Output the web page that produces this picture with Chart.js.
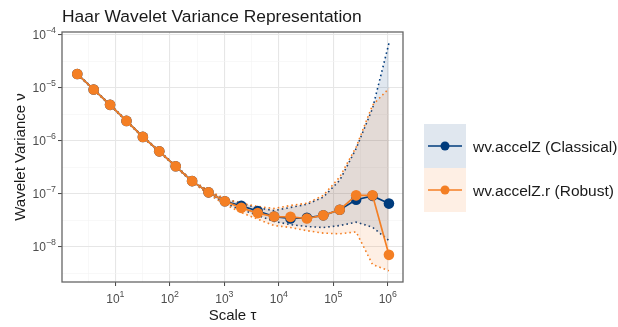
<!DOCTYPE html>
<html>
<head>
<meta charset="utf-8">
<script src="https://cdn.jsdelivr.net/npm/chart.js@4.4.0/dist/chart.umd.min.js"></script>
<style>
    html, body { margin: 0; padding: 0; background: #fff; }
    #wrap { width: 618px; height: 327px; }
</style>
</head>
<body>
<div id="wrap"><canvas id="wvChart" width="618" height="327"></canvas></div>
<script>
// scales tau = 2^1 .. 2^20
const scales = [2, 4, 8, 16, 32, 64, 128, 256, 512, 1024, 2048, 4096, 8192, 16384, 32768, 65536, 131072, 262144, 524288, 1048576]

// wavelet variance, classical estimator
const classical = [1.82e-5, 9.3e-6, 4.76e-6, 2.37e-6, 1.18e-6, 6.3e-7, 3.29e-7, 1.73e-7, 1.06e-7, 7.2e-8,
    5.9e-8, 4.7e-8, 3.7e-8, 3.4e-8, 3.5e-8, 3.9e-8, 4.98e-8, 7.7e-8, 9.1e-8, 6.5e-8]
const classicalUpper = [1.85e-5, 9.45e-6, 4.84e-6, 2.41e-6, 1.2e-6, 6.42e-7, 3.36e-7, 1.78e-7, 1.12e-7, 7.9e-8,
    6.6e-8, 5.4e-8, 4.8e-8, 5.5e-8, 6.3e-8, 8.6e-8, 1.79e-7, 7.1e-7, 4.07e-6, 6.93e-5]
const classicalLower = [1.79e-5, 9.15e-6, 4.68e-6, 2.33e-6, 1.16e-6, 6.18e-7, 3.22e-7, 1.68e-7, 1.0e-7, 6.5e-8,
    5.0e-8, 3.9e-8, 3.0e-8, 2.6e-8, 2.4e-8, 2.3e-8, 2.5e-8, 2.9e-8, 2.33e-8, 1.3e-8]

// wavelet variance, robust estimator
const robust = [1.82e-5, 9.3e-6, 4.76e-6, 2.37e-6, 1.18e-6, 6.3e-7, 3.29e-7, 1.73e-7, 1.06e-7, 7.2e-8,
    5.4e-8, 4.3e-8, 3.7e-8, 3.65e-8, 3.4e-8, 3.9e-8, 4.98e-8, 9.3e-8, 9.3e-8, 7.0e-9]
const robustUpper = [1.86e-5, 9.5e-6, 4.86e-6, 2.42e-6, 1.21e-6, 6.45e-7, 3.38e-7, 1.8e-7, 1.14e-7, 8.1e-8,
    6.6e-8, 5.75e-8, 5.25e-8, 6.0e-8, 6.6e-8, 9.3e-8, 2.06e-7, 7.6e-7, 4.7e-6, 9.7e-6]
const robustLower = [1.78e-5, 9.1e-6, 4.66e-6, 2.32e-6, 1.15e-6, 6.15e-7, 3.2e-7, 1.66e-7, 9.8e-8, 6.3e-8,
    4.4e-8, 3.3e-8, 2.5e-8, 2.3e-8, 2.0e-8, 1.8e-8, 1.75e-8, 1.9e-8, 4.6e-9, 3.5e-9]

const seriesNames = ['wv.accelZ (Classical)', 'wv.accelZ.r (Robust)']
const xTickExponents = [1, 2, 3, 4, 5, 6]
const yTickExponents = [-8, -7, -6, -5, -4]

const blue = '#003C7D'
const orange = '#F47F24'
const blueFill = 'rgba(0, 60, 125, 0.12)'
const orangeFill = 'rgba(244, 127, 36, 0.12)'
const font = '"Liberation Sans", Arial, sans-serif'

const toPoints = (vals) => scales.map((s, i) => ({ x: s, y: vals[i] }))

const isMajor = (v) => Math.abs(Math.log10(v) - Math.round(Math.log10(v))) < 1e-6

// линии сетки через каждые полдекады, как в ggplot
const halfDecades = (min, max) => {
    const ticks = []
    for (let k = Math.ceil(Math.log10(min) * 2); k <= Math.floor(Math.log10(max) * 2); k++) {
        const v = Math.pow(10, k / 2)
        ticks.push({ value: v, major: k % 2 === 0 })
    }
    return ticks
}

const gridStyle = {
    color: c => (c.tick && isMajor(c.tick.value)) ? '#e6e6e6' : '#f3f3f3',
    lineWidth: c => (c.tick && isMajor(c.tick.value)) ? 1.1 : 0.6,
    tickColor: c => (c.tick && isMajor(c.tick.value)) ? '#444' : 'rgba(0,0,0,0)',
    tickLength: 4,
    tickWidth: 1
}

const bandLine = (label, vals, color, fill, bg, order) => ({
    label,
    data: toPoints(vals),
    borderColor: color,
    borderWidth: 1.6,
    borderDash: [1.6, 3],
    pointRadius: 0,
    fill,
    backgroundColor: bg,
    order
})

const mainLine = (label, vals, color, order) => ({
    label,
    data: toPoints(vals),
    borderColor: color,
    backgroundColor: color,
    borderWidth: 1.7,
    pointRadius: 5.3,
    pointBorderWidth: 0,
    pointBackgroundColor: color,
    fill: false,
    order
})

// рисуем подписи осей, заголовок, легенду и рамку панели
const decorPlugin = {
    id: 'decor',
    afterDraw(chart) {
        const { ctx, chartArea: a, scales: { x, y } } = chart
        ctx.save()

        // рамка панели
        ctx.strokeStyle = '#666'
        ctx.lineWidth = 1.3
        ctx.strokeRect(a.left, a.top, a.right - a.left, a.bottom - a.top)

        // подписи делений вида 10^k
        ctx.fillStyle = '#4d4d4d'
        ctx.textBaseline = 'alphabetic'
        ctx.textAlign = 'left'
        const baseFont = `12px ${font}`
        const supFont = `8.8px ${font}`
        xTickExponents.forEach(e => {
            const px = x.getPixelForValue(Math.pow(10, e))
            const sup = String(e)
            ctx.font = baseFont
            const w1 = ctx.measureText('10').width
            ctx.font = supFont
            const w2 = ctx.measureText(sup).width
            const left = px - (w1 + w2) / 2
            ctx.font = baseFont
            ctx.fillText('10', left, a.bottom + 21)
            ctx.font = supFont
            ctx.fillText(sup, left + w1, a.bottom + 15)
        })
        yTickExponents.forEach(e => {
            const py = y.getPixelForValue(Math.pow(10, e))
            const sup = '\u2212' + String(-e)
            ctx.font = baseFont
            const w1 = ctx.measureText('10').width
            ctx.font = supFont
            const w2 = ctx.measureText(sup).width
            const left = a.left - 6 - (w1 + w2)
            ctx.font = baseFont
            ctx.fillText('10', left, py + 4.5)
            ctx.font = supFont
            ctx.fillText(sup, left + w1, py - 1.5)
        })

        // заголовок
        ctx.fillStyle = '#1a1a1a'
        ctx.font = `17.4px ${font}`
        ctx.fillText('Haar Wavelet Variance Representation', a.left, 21.5)

        // названия осей
        ctx.font = `15px ${font}`
        ctx.textAlign = 'center'
        ctx.fillText('Scale \u03c4', (a.left + a.right) / 2, 320)
        ctx.save()
        ctx.translate(25, (a.top + a.bottom) / 2)
        ctx.rotate(-Math.PI / 2)
        ctx.fillText('Wavelet Variance \u03bd', 0, 0)
        ctx.restore()

        // легенда
        const keys = [
            { name: seriesNames[0], color: blue, bg: blueFill },
            { name: seriesNames[1], color: orange, bg: orangeFill }
        ]
        const kx = 424, ky = 124, kw = 42, kh = 44
        keys.forEach((k, i) => {
            const top = ky + i * kh
            const cy = top + kh / 2
            ctx.fillStyle = k.bg
            ctx.fillRect(kx, top, kw, kh)
            ctx.strokeStyle = k.color
            ctx.lineWidth = 1.5
            ctx.beginPath()
            ctx.moveTo(kx + 4, cy)
            ctx.lineTo(kx + kw - 4, cy)
            ctx.stroke()
            ctx.fillStyle = k.color
            ctx.beginPath()
            ctx.arc(kx + kw / 2, cy, 4.5, 0, Math.PI * 2)
            ctx.fill()
            ctx.fillStyle = '#1a1a1a'
            ctx.font = `15.5px ${font}`
            ctx.textAlign = 'left'
            ctx.fillText(k.name, kx + kw + 7, cy + 5.5)
        })

        ctx.restore()
    }
}

const ctx = document.getElementById('wvChart').getContext('2d')

const wvChart = new Chart(ctx, {
    type: 'line',
    data: {
        datasets: [
            bandLine('classical upper', classicalUpper, blue, false, blueFill, 5),
            bandLine('classical lower', classicalLower, blue, '-1', blueFill, 4),
            bandLine('robust upper', robustUpper, orange, false, orangeFill, 3),
            bandLine('robust lower', robustLower, orange, '-1', orangeFill, 2),
            mainLine(seriesNames[0], classical, blue, 1),
            mainLine(seriesNames[1], robust, orange, 0)
        ]
    },
    options: {
        responsive: false,
        animation: false,
        devicePixelRatio: 1,
        layout: { padding: { left: 0, top: 32, right: 215, bottom: 0 } },
        plugins: {
            legend: { display: false },
            tooltip: { enabled: false }
        },
        scales: {
            x: {
                type: 'logarithmic',
                min: 1.05,
                max: 1.9e6,
                bounds: 'data',
                afterBuildTicks: s => { s.ticks = halfDecades(s.min, s.max) },
                afterFit: s => { s.height = 45 },
                ticks: { display: false },
                grid: gridStyle,
                border: { display: false }
            },
            y: {
                type: 'logarithmic',
                min: 2.15e-9,
                max: 1.13e-4,
                bounds: 'data',
                afterBuildTicks: s => { s.ticks = halfDecades(s.min, s.max) },
                afterFit: s => { s.width = 62 },
                ticks: { display: false },
                grid: gridStyle,
                border: { display: false }
            }
        }
    },
    plugins: [decorPlugin]
})
</script>
</body>
</html>
